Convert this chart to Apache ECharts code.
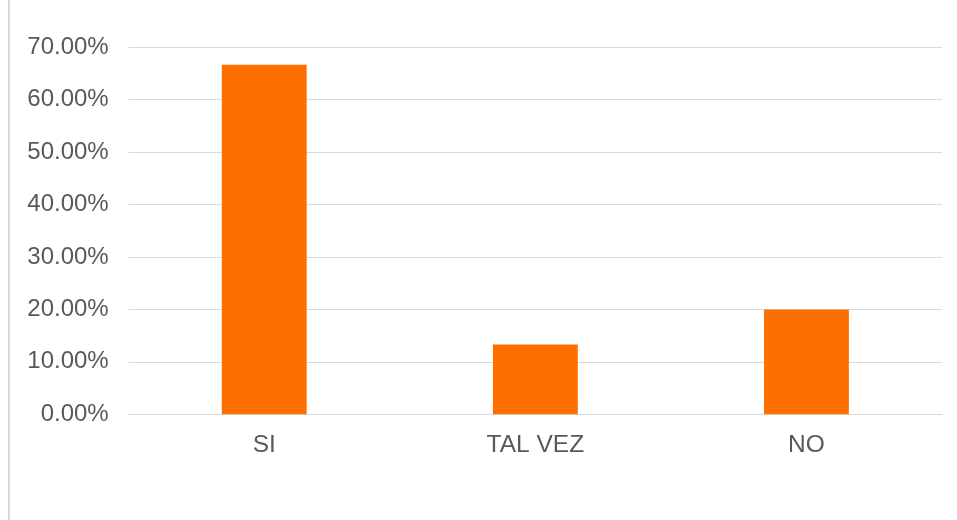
<!DOCTYPE html>
<html><head><meta charset="utf-8">
<script src="https://cdn.jsdelivr.net/npm/echarts@6/dist/echarts.min.js"></script>
<style>html,body{margin:0;padding:0;background:#fff}#c{width:957px;height:520px}</style>
</head><body><div id="c"></div>
<script>
const categories = ['SI', 'TAL VEZ', 'NO'];
const values = [66.67, 13.33, 20.0];
const yTicks = [0, 10, 20, 30, 40, 50, 60, 70];

const chart = echarts.init(document.getElementById('c'), null, {renderer: 'canvas'});
chart.setOption({
  animation: false,
  backgroundColor: '#ffffff',
  graphic: [{
    type: 'rect', left: 8, top: 0,
    shape: {width: 2, height: 520},
    style: {fill: '#d9d9d9'}
  }],
  grid: {left: 128.7, right: 15, top: 47.3, bottom: 105.7, containLabel: false},
  xAxis: {
    type: 'category', data: categories,
    axisTick: {show: false},
    axisLine: {lineStyle: {color: '#d9d9d9', width: 1}},
    axisLabel: {color: '#595959', fontSize: 24.5, fontFamily: 'Liberation Sans, Arial', margin: 18}
  },
  yAxis: {
    type: 'value', min: yTicks[0], max: yTicks[yTicks.length - 1], interval: 10,
    axisLine: {show: false}, axisTick: {show: false},
    splitLine: {lineStyle: {color: '#d9d9d9', width: 1}},
    axisLabel: {color: '#595959', fontSize: 24, fontFamily: 'Liberation Sans, Arial', margin: 20,
      formatter: v => v.toFixed(2) + '%'}
  },
  series: [{
    type: 'bar', data: values, barWidth: '31.3%',
    itemStyle: {color: '#ff6f00'}
  }]
});
</script></body></html>
